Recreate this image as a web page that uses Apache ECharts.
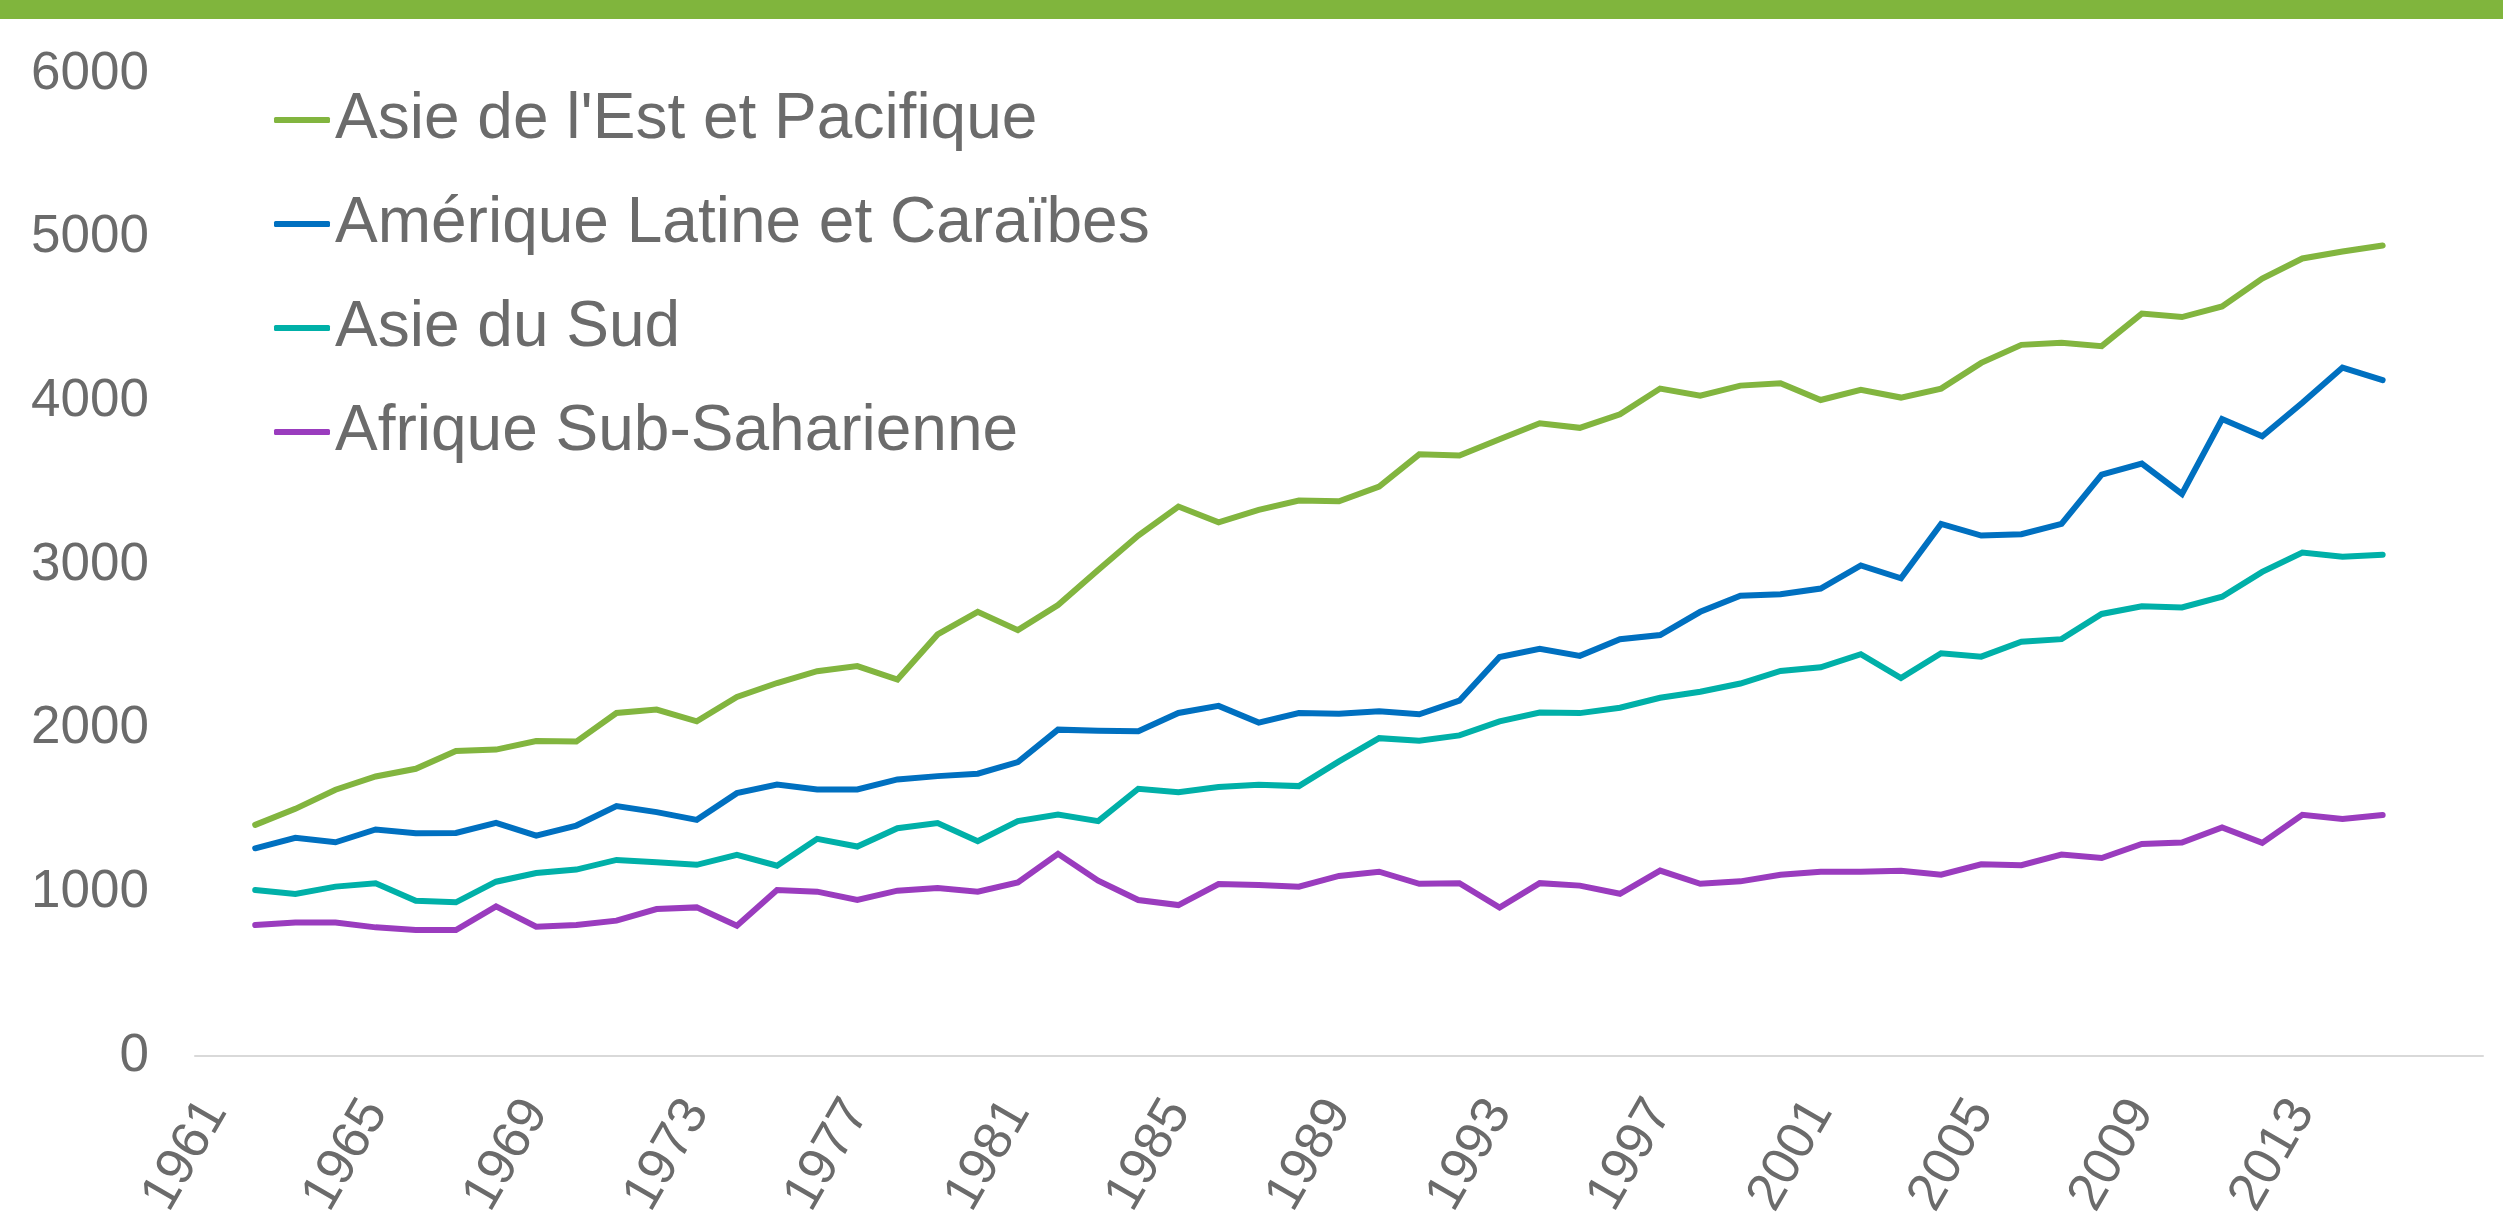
<!DOCTYPE html>
<html>
<head>
<meta charset="utf-8">
<script src="https://cdn.jsdelivr.net/npm/echarts@6/dist/echarts.min.js"></script>
<style>
html,body{margin:0;padding:0;background:#fff;}
#chart{width:2503px;height:1217px;}
</style>
</head>
<body>
<div id="chart"></div>
<script>
var years = ['1961','1962','1963','1964','1965','1966','1967','1968','1969','1970',
  '1971','1972','1973','1974','1975','1976','1977','1978','1979','1980',
  '1981','1982','1983','1984','1985','1986','1987','1988','1989','1990',
  '1991','1992','1993','1994','1995','1996','1997','1998','1999','2000',
  '2001','2002','2003','2004','2005','2006','2007','2008','2009','2010',
  '2011','2012','2013','2014','2015','2016','2017'];

var seriesNames = ["Asie de l'Est et Pacifique", "Amérique Latine et Caraïbes", "Asie du Sud", "Afrique Sub-Saharienne"];

// values from 1962 onward (1961 is empty)
var asieEst = [1412,1510,1627,1708,1755,1863,1872,1924,1921,2096,2117,2045,2194,
  2279,2351,2382,2300,2576,2714,2602,2755,2969,3180,3357,3261,3337,
  3394,3389,3479,3676,3669,3768,3866,3838,3921,4078,4034,4096,4111,4008,
  4070,4023,4078,4235,4345,4358,4337,4536,4515,4580,4750,4873,4915,4952];

var ameriqueLatine = [1269,1333,1306,1384,1361,1363,1425,1347,1408,1527,1490,1443,1606,
  1659,1629,1629,1690,1710,1725,1796,1994,1988,1984,2096,2139,2037,
  2095,2091,2106,2088,2171,2438,2488,2445,2547,2572,2714,2812,2821,2856,
  2997,2919,3251,3180,3188,3251,3552,3620,3434,3892,3787,3991,4206,4130];

var asieSud = [1014,990,1035,1055,949,939,1065,1118,1139,1198,1184,1168,1229,
  1163,1327,1280,1392,1423,1312,1435,1476,1435,1633,1612,1643,1657,
  1649,1800,1942,1926,1959,2045,2099,2095,2128,2189,2226,2276,2353,2375,
  2455,2309,2461,2440,2531,2547,2701,2748,2741,2806,2958,3076,3050,3063];

var afrique = [800,816,816,786,770,770,914,790,800,827,898,908,796,
  1014,1004,953,1010,1027,1004,1061,1235,1071,953,922,1051,1045,
  1034,1100,1126,1052,1056,907,1056,1041,991,1133,1052,1067,1107,1126,
  1126,1132,1108,1171,1166,1231,1210,1296,1304,1396,1302,1474,1448,1472];

var yTicks = [0,1000,2000,3000,4000,5000,6000];

var colors = ['#82B53F', '#0070C0', '#00B0A8', '#9A3CBE'];
var textColor = '#6B6B6B';
var fontFam = '"Liberation Sans", Arial, sans-serif';

function withLeadingGap(arr){ return [null].concat(arr); }

var allValues = [asieEst, ameriqueLatine, asieSud, afrique];

var chart = echarts.init(document.getElementById('chart'), null, {renderer:'canvas'});
chart.setOption({
  animation: false,
  backgroundColor: '#ffffff',
  color: colors,
  graphic: [{
    type: 'rect',
    left: 0, top: 0,
    shape: {width: 2503, height: 19},
    style: {fill: '#80B53D'}
  }],
  grid: {left: 195, right: 20, top: 74, bottom: 161, containLabel: false, outerBoundsMode: 'none'},
  legend: {
    orient: 'vertical',
    left: 269,
    top: 83,
    itemWidth: 56,
    itemHeight: 6,
    itemGap: 40,
    icon: 'roundRect',
    textStyle: {fontSize: 64, color: textColor, fontFamily: fontFam, lineHeight: 64},
    data: seriesNames
  },
  xAxis: {
    type: 'category',
    data: years,
    boundaryGap: true,
    axisLine: {show: true, lineStyle: {color: '#D9D9D9', width: 2}},
    axisTick: {show: false},
    splitLine: {show: false},
    axisLabel: {
      rotate: 60,
      margin: 48,
      fontSize: 53,
      color: textColor,
      fontFamily: fontFam,
      interval: function(index){ return index % 4 === 0 && index <= 52; }
    }
  },
  yAxis: {
    type: 'value',
    min: yTicks[0],
    max: yTicks[yTicks.length-1],
    interval: 1000,
    axisLine: {show: false},
    axisTick: {show: false},
    splitLine: {show: false},
    axisLabel: {
      margin: 46, fontSize: 53, color: textColor, fontFamily: fontFam,
      formatter: function(v){ return String(v); }
    }
  },
  series: seriesNames.map(function(name, i){
    return {
      name: name,
      type: 'line',
      data: withLeadingGap(allValues[i]),
      showSymbol: false,
      symbol: 'none',
      lineStyle: {width: 6, color: colors[i], cap: 'round', join: 'miter'},
      itemStyle: {color: colors[i]}
    };
  })
});
</script>
</body>
</html>
